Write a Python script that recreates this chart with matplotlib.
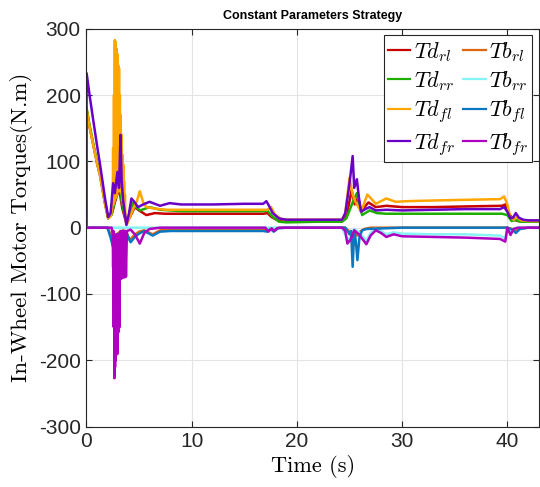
import matplotlib
matplotlib.use("Agg")
import matplotlib.pyplot as plt
from matplotlib.ticker import FuncFormatter

plt.rcParams["font.family"] = ["Liberation Sans", "DejaVu Sans"]
plt.rcParams["mathtext.fontset"] = "cm"
plt.rcParams["axes.unicode_minus"] = False

# ---- drive torques (N.m) ----
t_td_fr = [0, 0.02, 0.3, 0.65, 1.0, 1.28, 1.55, 1.75, 2.07, 2.3, 2.54, 2.7, 2.95, 3.1, 3.24, 3.35, 3.5, 3.8,
           4.05, 4.28, 4.6, 4.9, 5.4, 6.0, 6.5, 7.0, 7.9, 9, 12, 15, 16.8, 17.1, 17.35, 17.7, 18.3, 19, 22,
           24.3, 24.6, 24.9, 25.1, 25.3, 25.45, 25.7, 25.9, 26.1, 26.5, 26.9, 27.5, 28.5, 30, 33, 36, 39.3,
           39.7, 40.0, 40.3, 40.55, 40.8, 41.1, 41.5, 42, 43]
v_td_fr = [0, 233, 200, 162, 125, 97, 68, 46, 16, 22, 67, 52, 84, 60, 140, 70, 40, 4,
           22, 44, 38, 31, 35, 39, 36, 33, 37, 35, 35, 36, 36, 40, 33, 22, 14, 12, 12,
           12, 22, 55, 80, 108, 60, 73, 45, 24, 28, 31, 26, 27, 26, 27, 28, 28,
           31, 24, 14, 15, 22, 15, 12, 11, 11]

t_td_rr = [0, 0.02, 0.3, 0.65, 1.0, 1.28, 1.55, 1.75, 2.07, 2.4, 2.7, 2.9, 3.1, 3.4, 3.8, 4.1, 4.4, 4.8,
           5.1, 6.0, 7.0, 9, 12, 15, 16.8, 17.2, 17.6, 18.3, 19, 22, 24.3, 24.7, 25.1, 25.4, 25.7, 25.95,
           26.2, 26.9, 27.6, 28.5, 30, 33, 36, 39.5, 40.0, 40.4, 40.8, 41.2, 42, 43]
v_td_rr = [0, 180, 155, 127, 100, 82, 58, 39, 14, 20, 40, 52, 69, 35, 8, 20, 37, 30,
           26, 31, 27, 25, 25, 25, 25, 26, 18, 9, 8, 9, 9, 14, 30, 42, 52, 35,
           19, 26, 22, 21, 21, 21, 21, 21, 19, 10, 12, 9, 9, 9]

t_td_rl = [0, 0.02, 0.3, 0.65, 1.0, 1.28, 1.55, 1.75, 2.07, 2.4, 2.7, 2.9, 3.1, 3.4, 3.8, 4.2, 4.6, 5.0,
           5.7, 6.5, 7.5, 9, 12, 15, 16.8, 17.2, 17.6, 18.3, 19, 22, 24.3, 24.7, 25.0, 25.2, 25.5, 25.8,
           26.1, 26.8, 27.5, 28.5, 30, 33, 36, 39.5, 39.8, 40.2, 40.6, 41.0, 42, 43]
v_td_rl = [0, 178, 152, 125, 98, 80, 56, 38, 14, 20, 38, 48, 60, 30, 6, 18, 31, 26,
           19, 22, 21, 21, 21, 21, 21, 22, 16, 10, 10, 10, 10, 18, 40, 57, 35, 45,
           25, 38, 31, 33, 31, 31, 32, 33, 35, 20, 12, 10, 10, 10]

t_td_fl = [0, 0.02, 0.3, 0.65, 1.0, 1.28, 1.55, 1.75, 2.07, 2.35,
           2.50, 2.54, 2.58, 2.62, 2.66, 2.70, 2.74, 2.78, 2.82, 2.86, 2.90, 2.94, 2.98, 3.02, 3.06,
           3.10, 3.14, 3.18, 3.22, 3.26, 3.30, 3.34, 3.38, 3.42, 3.46, 3.50, 3.54, 3.58, 3.62, 3.66,
           3.72, 3.85, 4.1, 4.5, 4.8, 5.07,
           5.4, 5.7, 6.4, 7.5, 9, 12, 15, 16.8, 17.2, 17.55, 17.9, 18.5, 19.2, 22, 24.3, 24.6, 25.0,
           25.3, 25.6, 26.1, 26.7, 27.5, 28.5, 29.4, 30.5, 33, 36, 39.3, 39.7, 40.0, 40.3, 40.6, 40.9,
           41.3, 42, 43]
v_td_fl = [0, 178, 152, 125, 98, 80, 56, 38, 14, 18,
           40, 120, 35, 200, 40, 283, 50, 280, 45, 270, 50, 262, 55, 245, 60,
           240, 55, 200, 60, 170, 55, 140, 50, 110, 40, 95, 35, 70, 25, 50,
           10, 5, 15, 30, 40, 55,
           38, 31, 29, 27, 27, 27, 27, 27, 27, 31, 20, 13, 12, 12, 12, 22, 75,
           50, 38, 24, 50, 36, 44, 39, 40, 41, 42, 43, 47, 35, 15, 12, 16,
           11, 10, 10]

# ---- braking torques (N.m) ----
t_tb_fr = [0, 2.4, 2.50,
           2.54, 2.57, 2.60, 2.63, 2.66, 2.69, 2.72, 2.75, 2.78,
           2.81, 2.84, 2.87, 2.90, 2.93, 2.96, 2.99, 3.02,
           3.05, 3.08, 3.11, 3.14, 3.17,
           3.20, 3.23, 3.26, 3.29, 3.32, 3.35, 3.38, 3.41, 3.44, 3.47,
           3.50, 3.53, 3.56, 3.59, 3.62, 3.65, 3.68, 3.71, 3.76,
           3.85, 4.2, 4.6, 5.07, 5.5, 6.0, 7, 12, 17.0, 17.3, 17.6, 17.85, 18.1, 18.4,
           19, 24.3, 24.6, 24.8, 25.1, 25.45, 25.9, 26.6, 27.0, 27.5, 28.0, 28.5, 29.2, 30, 33, 36, 39.3,
           39.8, 40.0, 40.3, 40.6, 41.0, 42, 43]
v_tb_fr = [0, 0, -10,
           -60, -5, -150, -10, -227, -20, -210, -15, -200,
           -10, -192, -15, -185, -10, -190, -20, -150,
           -10, -157, -15, -150, -10,
           -77, -5, -70, -10, -77, -5, -65, -10, -30, -5,
           -75, -5, -70, -10, -75, -5, -60, -10, -74,
           -5, -3, -10, -24, -8, -2, 0, 0, 0, -6, -1, -5, -1, 0,
           0, 0, -5, -24, -18, -4, -10, -25, -12, -4, -8, -14, -10, -13, -14, -15, -17,
           -21, 0, -11, -2, 0, 0, 0]

t_tb_rr = [0, 24.3, 24.8, 25.1, 25.45, 25.9, 26.6, 27.0, 27.5, 28.0, 28.5, 29.2, 30, 33, 36, 39.3,
           39.8, 40.0, 40.3, 40.6, 41.0, 42, 43]
v_tb_rr = [0, 0, -18, -14, -2, -7, -20, -8, -1, -5, -10, -7, -9, -10, -10, -12,
           -16, 0, -8, -1, 0, 0, 0]

t_tb_fl = [0, 2.0, 2.3, 2.5, 2.76, 3.0, 3.5, 3.8, 4.2, 4.6, 5.0, 5.5, 6.3, 7.0, 8, 12, 16.8, 17.2,
           17.5, 17.8, 18.2, 19, 24.6, 25.0, 25.15, 25.3, 25.45, 25.6, 25.75, 25.95, 26.2, 26.6, 30,
           40.0, 40.5, 40.8, 41.2, 42, 43]
v_tb_fl = [0, 0, -15, -28, -21, -10, -5, -8, -22, -14, -9, -5, -12, -6, -5, -5, -5, -6,
           -2, -6, -1, 0, 0, -10, -5, -59, -4, -20, -49, -14, -4, -2, 0,
           0, -3, -8, -2, 0, 0]

t_tb_rl = [0, 2.0, 2.3, 2.5, 2.76, 3.0, 3.5, 3.8, 4.1, 4.5, 5.0, 5.5, 6.3, 7.0, 8, 12, 16.8, 17.2,
           17.5, 17.8, 18.2, 19, 24.6, 25.0, 25.3, 25.5, 25.7, 26.0, 26.4, 27, 40.0, 40.5, 40.8,
           41.2, 42, 43]
v_tb_rl = [0, 0, -10, -20, -16, -8, -4, -6, -19, -12, -6, -4, -10, -4, -3, -3, -3, -4,
           -1, -4, 0, 0, 0, -6, -18, -8, -12, -6, -2, 0, 0, -2, -5,
           -1, 0, 0]

SERIES = [
    (r"$Td_{rl}$", t_td_rl, v_td_rl, "#c80000"),
    (r"$Td_{rr}$", t_td_rr, v_td_rr, "#1fae00"),
    (r"$Td_{fl}$", t_td_fl, v_td_fl, "#ffa500"),
    (r"$Td_{fr}$", t_td_fr, v_td_fr, "#6a00c8"),
    (r"$Tb_{rl}$", t_tb_rl, v_tb_rl, "#e0650f"),
    (r"$Tb_{rr}$", t_tb_rr, v_tb_rr, "#84f4f4"),
    (r"$Tb_{fl}$", t_tb_fl, v_tb_fl, "#0a78c0"),
    (r"$Tb_{fr}$", t_tb_fr, v_tb_fr, "#b000c0"),
]

fig = plt.figure(figsize=(5.40, 4.87), dpi=100)
ax = fig.add_axes([0.160, 0.124, 0.838, 0.817])

lines = {}
for label, t, v, c in SERIES:
    lines[label], = ax.plot(t, v, color=c, lw=1.8, label=label)

ax.set_xlim(0, 43)
ax.set_ylim(-300, 300)
ax.set_xticks([0, 10, 20, 30, 40])
ax.set_yticks([-300, -200, -100, 0, 100, 200, 300])
ax.yaxis.set_major_formatter(FuncFormatter(lambda v, p: f"{v:g}"))
ax.tick_params(direction="in", top=True, right=True, labelsize=15, length=4,
               width=0.8, color="#262626", labelcolor="#262626", pad=4)
ax.grid(True, color="#e3e3e3", lw=0.8)
ax.set_axisbelow(True)
for s in ax.spines.values():
    s.set_color("#262626")
    s.set_linewidth(0.8)

ax.set_xlabel("Time (s)", fontsize=16, family="cmr10", labelpad=3)
ax.set_ylabel("In-Wheel Motor Torques(N.m)", fontsize=16.5, family="cmr10", labelpad=4)
ax.set_title("Constant Parameters Strategy", fontsize=9, fontweight="bold", pad=7)

# row-major order for the two-column legend
order = [r"$Td_{rl}$", r"$Td_{rr}$", r"$Td_{fl}$", r"$Td_{fr}$",
         r"$Tb_{rl}$", r"$Tb_{rr}$", r"$Tb_{fl}$", r"$Tb_{fr}$"]
leg = ax.legend([lines[k] for k in order], order, ncol=2, loc="upper right", fontsize=16,
                handlelength=1.0, handletextpad=0.15, columnspacing=0.4, labelspacing=0.25,
                borderpad=0.2, borderaxespad=0.3, fancybox=False, framealpha=1)
leg.get_frame().set_edgecolor("#262626")
leg.get_frame().set_linewidth(0.8)
for h in leg.legend_handles:
    h.set_linewidth(1.6)

fig.savefig("out.png", dpi=100)
